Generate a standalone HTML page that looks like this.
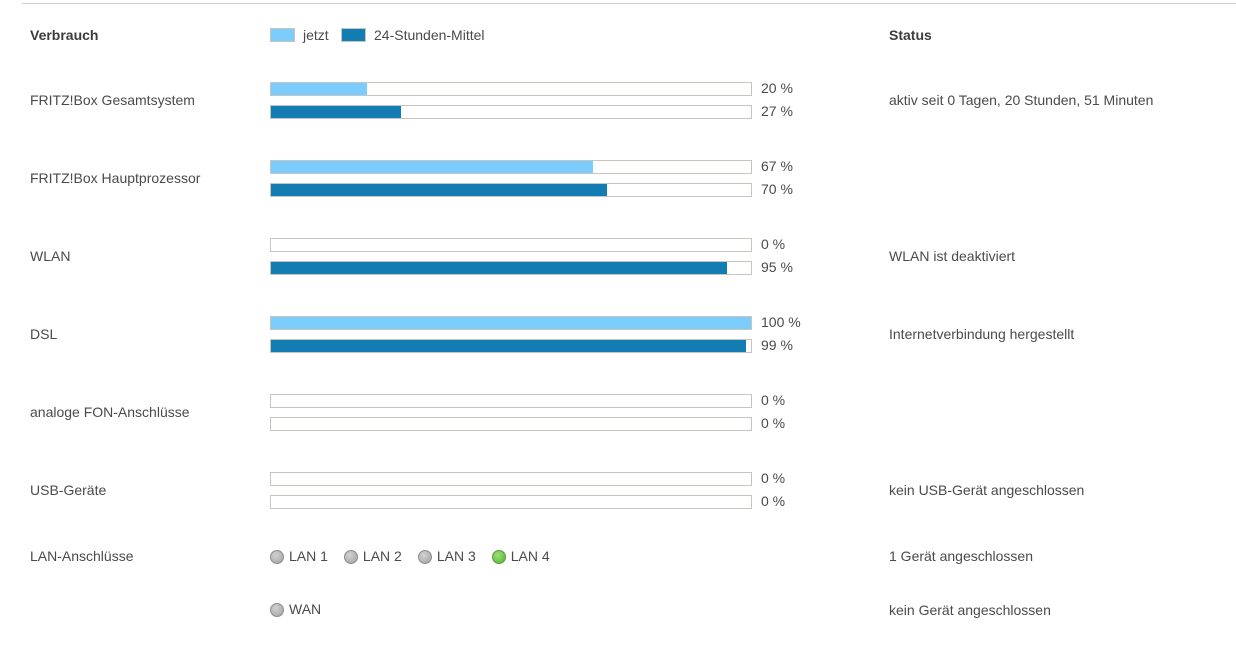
<!DOCTYPE html>
<html><head><meta charset="utf-8"><style>
body{margin:0;width:1236px;height:645px;background:#fff;font-family:"Liberation Sans",sans-serif;color:#4a4a4a;font-size:14px;position:relative;overflow:hidden}
.a{position:absolute;white-space:nowrap}
.b{font-weight:bold;color:#3c3c3c}
.bar{position:absolute;left:270px;width:480px;height:12px;border:1px solid #c6c6be;background:#fff}
.fill{height:12px}
.led{display:inline-block;width:14px;height:14px;border-radius:50%;background:radial-gradient(circle at 40% 35%,#d2d2d2,#a0a0a0);border:1px solid #8a9090;vertical-align:-3px;margin-right:5px;box-sizing:border-box}
.led.on{background:radial-gradient(circle at 40% 35%,#9fe27a,#4fb22c);border-color:#5a9a40}
</style></head><body>
<div class="a" style="left:22px;top:3px;width:1214px;height:1px;background:#cfcfcf"></div>
<div class="a b" style="left:30px;top:27px">Verbrauch</div>
<div class="a b" style="left:889px;top:27px">Status</div>
<div class="a" style="left:270px;top:27px"><span style="display:inline-block;width:23px;height:12px;background:#7ccdfd;border:1px solid #c6c6be;vertical-align:-2px;margin-right:8px"></span>jetzt</div>
<div class="a" style="left:341px;top:27px"><span style="display:inline-block;width:23px;height:12px;background:#137db3;border:1px solid #c6c6be;vertical-align:-2px;margin-right:8px"></span>24-Stunden-Mittel</div>
<div id="rows"></div>
<div class="a" style="left:30px;top:548px">LAN-Anschlüsse</div>
<div class="a" id="lan" style="left:270px;top:548px"></div>
<div class="a" style="left:889px;top:548px">1 Gerät angeschlossen</div>
<div class="a" style="left:270px;top:601px"><span class="led"></span>WAN</div>
<div class="a" style="left:889px;top:602px">kein Gerät angeschlossen</div>
<script>
const categories=["FRITZ!Box Gesamtsystem","FRITZ!Box Hauptprozessor","WLAN","DSL","analoge FON-Anschlüsse","USB-Geräte"];
const nowValues=[20,67,0,100,0,0];
const avgValues=[27,70,95,99,0,0];
const statuses=["aktiv seit 0 Tagen, 20 Stunden, 51 Minuten","","WLAN ist deaktiviert","Internetverbindung hergestellt","","kein USB-Gerät angeschlossen"];
const lanPorts=["LAN 1","LAN 2","LAN 3","LAN 4"];
const lanActive=[false,false,false,true];
const rows=document.getElementById('rows');
function x(v){return v/100*480;}
categories.forEach((c,i)=>{
  const top=82+i*78;
  const l=document.createElement('div');l.className='a';l.style.left='30px';l.style.top=(top+10)+'px';l.textContent=c;
  
  
  rows.appendChild(l);
  [[nowValues[i],'#7ccdfd',0],[avgValues[i],'#137db3',23]].forEach(([v,col,off])=>{
    const b=document.createElement('div');b.className='bar';b.style.top=(top+off)+'px';
    
    
    const f=document.createElement('div');f.className='fill';f.style.width=x(v)+'px';f.style.background=col;
    
    
    b.appendChild(f);rows.appendChild(b);
    const t=document.createElement('div');t.className='a';t.style.left='761px';t.style.top=(top+off-2)+'px';t.textContent=v+' %';
    
    
    rows.appendChild(t);
  });
  if(statuses[i]){const s=document.createElement('div');s.className='a';s.style.left='889px';s.style.top=(top+10)+'px';s.textContent=statuses[i];
    
    
    rows.appendChild(s);}
});
const lan=document.getElementById('lan');
lanPorts.forEach((p,i)=>{
  const s=document.createElement('span');s.style.marginRight='16px';
  
  
  s.innerHTML='<span class="led'+(lanActive[i]?' on':'')+'"></span>'+p;
  lan.appendChild(s);
});
</script>
</body></html>
